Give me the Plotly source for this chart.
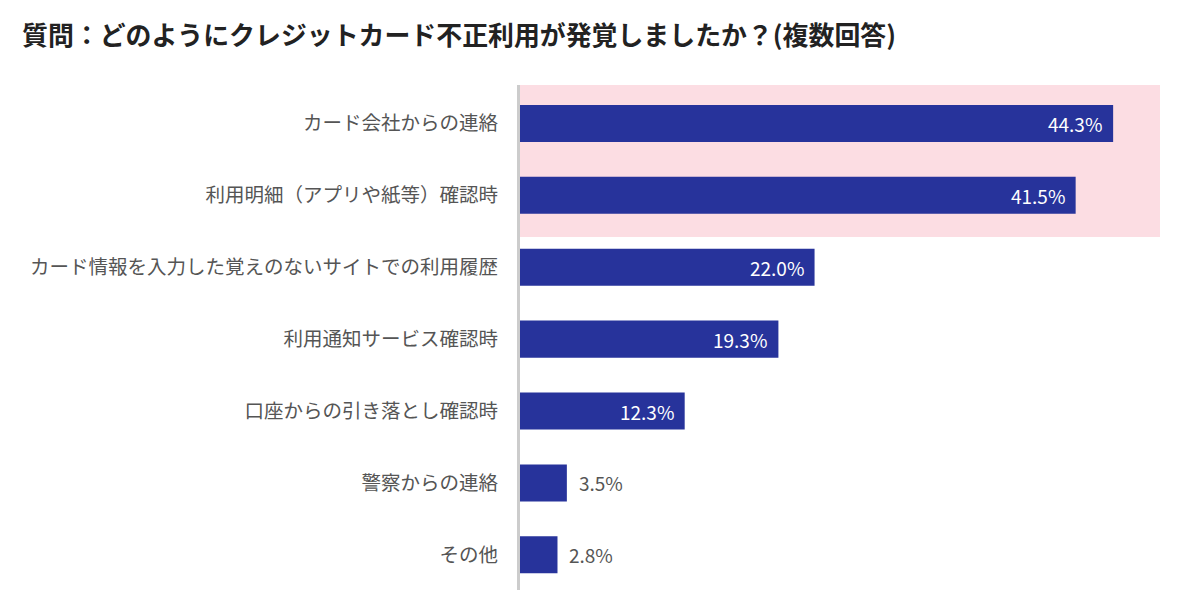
import plotly.graph_objects as go

categories = [
    "カード会社からの連絡",
    "利用明細（アプリや紙等）確認時",
    "カード情報を入力した覚えのないサイトでの利用履歴",
    "利用通知サービス確認時",
    "口座からの引き落とし確認時",
    "警察からの連絡",
    "その他",
]
values = [44.3, 41.5, 22.0, 19.3, 12.3, 3.5, 2.8]
value_labels = ["44.3%", "41.5%", "22.0%", "19.3%", "12.3%", "3.5%", "2.8%"]
title_text = "質問：どのようにクレジットカード不正利用が発覚しましたか？(複数回答)"

FONT = "Noto Sans CJK JP"
BAR = "#27339b"
W, H = 1184, 598  # page body has an 8px margin

fig = go.Figure()
fig.add_trace(go.Bar(
    x=values, y=categories, orientation="h",
    marker=dict(color=BAR, line=dict(width=0)),
    width=0.515, hoverinfo="skip",
))

annotations = []
for cat, v, lab in zip(categories, values, value_labels):
    inside = v > 10
    annotations.append(dict(
        x=v, y=cat, xref="x", yref="y", text=lab, showarrow=False,
        xanchor="right" if inside else "left",
        xshift=-9 if inside else 10,
        font=dict(family=FONT, size=19, color="#ffffff" if inside else "#555555"),
    ))

fig.update_layout(
    width=W, height=H,
    margin=dict(l=512, r=32, t=77, b=16),
    paper_bgcolor="white", plot_bgcolor="white",
    showlegend=False,
    title=dict(text=title_text, x=14 / W, xanchor="left", xref="container",
               y=1 - 28 / H, yanchor="middle", yref="container",
               font=dict(family=FONT, size=25.9, color="#222222", weight="bold")),
    annotations=annotations,
    shapes=[dict(type="rect", xref="paper", yref="y", x0=-0.004, x1=1,
                 y0=-0.535, y1=1.58, fillcolor="#fcdde3", line=dict(width=0),
                 layer="below")],
    xaxis=dict(range=[0, 47.8], showgrid=False, zeroline=False, showticklabels=False,
               showline=False, fixedrange=True),
    yaxis=dict(range=[6.49, -0.535], showgrid=False, zeroline=False,
               showline=True, linecolor="#cccccc", linewidth=3,
               ticks="", ticklabelstandoff=15,
               tickfont=dict(family=FONT, size=19.5, color="#555555")),
)

fig.write_html("out.html")
